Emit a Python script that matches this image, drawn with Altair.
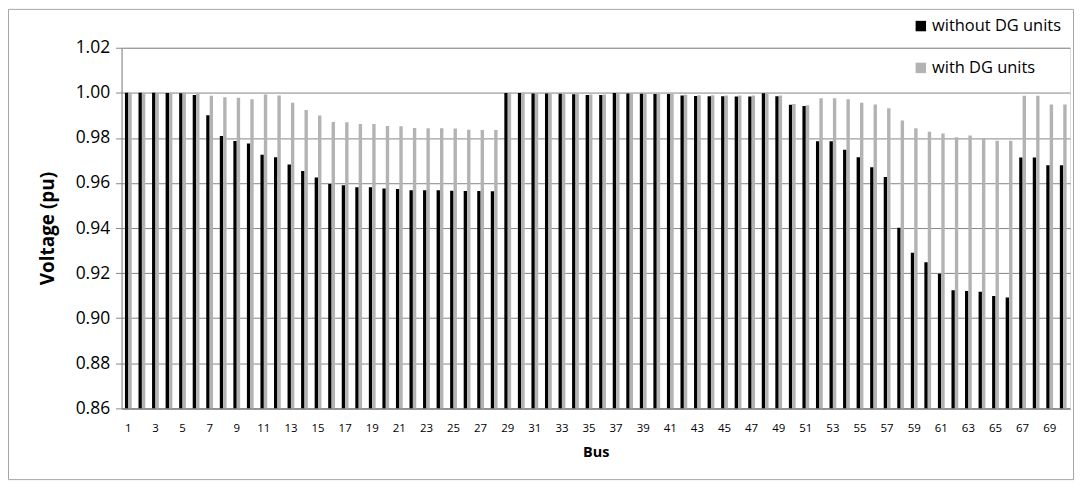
import altair as alt
import pandas as pd

buses = list(range(1, 71))
series_names = ["without DG units", "with DG units"]

without_dg = [
    1.0000, 1.0000, 1.0000, 0.9999, 0.9998, 0.9990, 0.9901, 0.9808, 0.9786, 0.9775,
    0.9725, 0.9714, 0.9682, 0.9653, 0.9624, 0.9595, 0.9590, 0.9581, 0.9581, 0.9576,
    0.9573, 0.9568, 0.9568, 0.9568, 0.9566, 0.9564, 0.9564, 0.9563, 0.9999, 0.9999,
    0.9997, 0.9997, 0.9996, 0.9994, 0.9990, 0.9990, 0.9999, 0.9997, 0.9996, 0.9995,
    0.9995, 0.9988, 0.9986, 0.9985, 0.9985, 0.9984, 0.9984, 0.9998, 0.9985, 0.9947,
    0.9942, 0.9785, 0.9785, 0.9747, 0.9714, 0.9670, 0.9626, 0.9401, 0.9290, 0.9248,
    0.9197, 0.9124, 0.9121, 0.9117, 0.9099, 0.9092, 0.9713, 0.9713, 0.9679, 0.9679,
]

with_dg = [
    1.0000, 1.0000, 1.0000, 1.0000, 1.0000, 0.9995, 0.9987, 0.9980, 0.9978, 0.9972,
    0.9992, 0.9988, 0.9956, 0.9924, 0.9899, 0.9870, 0.9869, 0.9862, 0.9862, 0.9853,
    0.9852, 0.9844, 0.9843, 0.9843, 0.9842, 0.9836, 0.9835, 0.9835, 1.0000, 1.0000,
    0.9998, 0.9998, 0.9997, 0.9995, 0.9992, 0.9992, 1.0000, 0.9998, 0.9997, 0.9997,
    0.9997, 0.9991, 0.9989, 0.9989, 0.9988, 0.9988, 0.9988, 1.0000, 0.9988, 0.9950,
    0.9945, 0.9976, 0.9976, 0.9972, 0.9956, 0.9948, 0.9932, 0.9877, 0.9843, 0.9827,
    0.9819, 0.9803, 0.9811, 0.9798, 0.9787, 0.9787, 0.9987, 0.9987, 0.9948, 0.9948,
]

x_tick_values = list(range(1, 70, 2))
y_tick_values = [0.86, 0.88, 0.90, 0.92, 0.94, 0.96, 0.98, 1.00, 1.02]
colors = ["#000000", "#b3b3b3"]

rows = []
for b, v in zip(buses, without_dg):
    rows.append({"Bus": b, "Series": series_names[0], "Voltage": v})
for b, v in zip(buses, with_dg):
    rows.append({"Bus": b, "Series": series_names[1], "Voltage": v})
df = pd.DataFrame(rows)

FONT = "Open Sans"
GRID = "#868686"

bars = alt.Chart(df).mark_bar(clip=True).encode(
    x=alt.X(
        "Bus:O",
        title="Bus",
        scale=alt.Scale(paddingInner=0.5, paddingOuter=0.25),
        axis=alt.Axis(
            values=x_tick_values, labelAngle=0, ticks=False, labelFontSize=11.5,
            labelFont=FONT, labelColor="#000000", labelPadding=14,
            domainColor=GRID, domainWidth=1.5, titleFont=FONT, titleFontSize=14.5,
            titleFontWeight="bold", titleColor="#000000", titlePadding=12, grid=False,
        ),
    ),
    xOffset=alt.XOffset("Series:N", sort=series_names),
    y=alt.Y(
        "Voltage:Q",
        title="Voltage (pu)",
        scale=alt.Scale(domain=[0.86, 1.02], zero=False, nice=False),
        axis=alt.Axis(
            values=y_tick_values, format=".2f", labelFontSize=17.5, labelFont=FONT,
            labelColor="#000000", labelPadding=6, tickSize=6, tickColor=GRID,
            domainColor=GRID, gridColor=GRID, gridWidth=1, titleFont=FONT,
            titleFontSize=19, titleFontWeight="bold", titleColor="#000000",
            titlePadding=18,
        ),
    ),
    y2=alt.datum(0.86),
    color=alt.Color(
        "Series:N",
        sort=series_names,
        scale=alt.Scale(domain=series_names, range=colors),
        legend=alt.Legend(
            title=None, orient="none", legendX=794, legendY=-30,
            symbolType="square", symbolSize=110, symbolStrokeWidth=0,
            symbolOpacity=1, labelFont=FONT, labelFontSize=16.5,
            labelColor="#000000", rowPadding=25, labelOffset=3,
        ),
    ),
)

frame = alt.Chart(pd.DataFrame({"k": [0]})).mark_rect(
    fill=None, stroke="#a6a6a6", strokeWidth=1
).encode(
    x=alt.value(-113.5), x2=alt.value(955.5),
    y=alt.value(-38.5), y2=alt.value(433.5),
)

chart = alt.layer(frame, bars).properties(
    width=952, height=362,
    padding={"left": 114, "top": 39, "right": 5, "bottom": 72},
    autosize=alt.AutoSizeParams(type="none"),
).configure_view(stroke=None).configure(background="#ffffff")

chart.save("out.html", embed_options={"renderer": "svg", "actions": False})
